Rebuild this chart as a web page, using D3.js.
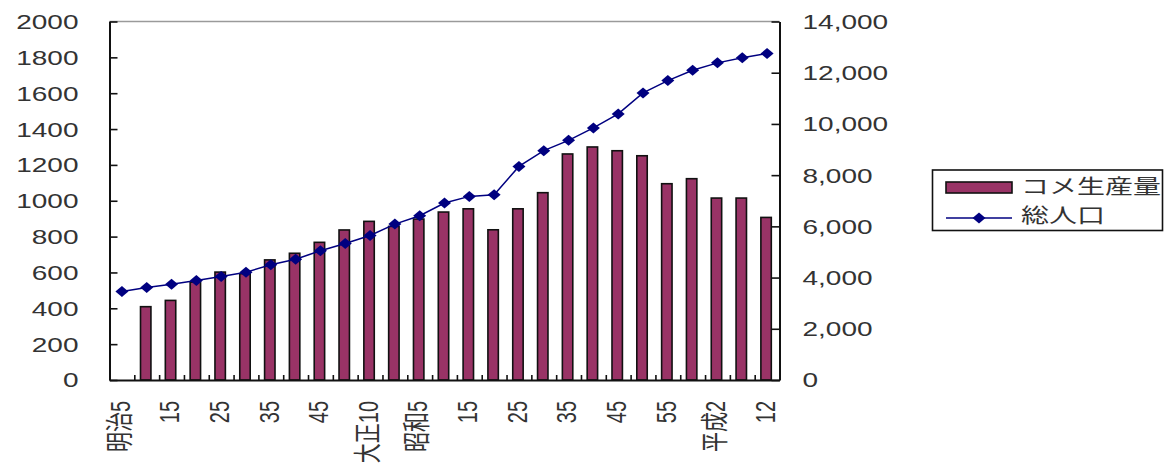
<!DOCTYPE html>
<html>
<head>
<meta charset="utf-8">
<script src="https://cdn.jsdelivr.net/npm/d3@7"></script>
<style>
  body { margin: 0; background: #fff; }
  svg { display: block; }
</style>
</head>
<body>
<svg id="chart" width="1165" height="463"></svg>
<script>
// 年次（明治5年〜平成12年、5年おき）
const categories = ["明治5", "10", "15", "20", "25", "30", "35", "40", "45",
  "大正5", "大正10", "14", "昭和5", "10", "15", "20", "25", "30", "35", "40",
  "45", "50", "55", "60", "平成2", "7", "12"];
// コメ生産量（左軸）
const riceProduction = [null, 409, 444, 546, 602, 593, 670, 707, 768, 837, 885,
  857, 898, 937, 955, 838, 955, 1045, 1261, 1300, 1279, 1251, 1095, 1123, 1015,
  1015, 907];
// 総人口（右軸）
const population = [3453, 3610, 3742, 3885, 4041, 4211, 4497, 4719, 5045, 5330,
  5644, 6088, 6414, 6910, 7170, 7235, 8342, 8956, 9359, 9844, 10391, 11212, 11693,
  12096, 12385, 12580, 12749];
const leftTicks = [0, 200, 400, 600, 800, 1000, 1200, 1400, 1600, 1800, 2000];
const rightTicks = [0, 2000, 4000, 6000, 8000, 10000, 12000, 14000];
const seriesNames = ["コメ生産量", "総人口"];

const plot = { left: 109.5, right: 779.5, top: 21.5, bottom: 380 };
const SX = 1.4;               // wide glyphs
const FONT = '"Liberation Sans", "Noto Sans CJK JP", sans-serif';
const FS = 20;
const BAR = "#993366", LINE = "#000080", TEXT = "#333";

const svg = d3.select("#chart");

const x = d3.scaleBand()
  .domain(d3.range(categories.length))
  .range([plot.left, plot.right]);
const xEdge = d3.scaleLinear()
  .domain([0, categories.length])
  .range([plot.left, plot.right]);
const yL = d3.scaleLinear().domain([0, 2000]).range([plot.bottom, plot.top]);
const yR = d3.scaleLinear().domain([0, 14000]).range([plot.bottom, plot.top]);
const cx = i => x(i) + x.bandwidth() / 2;

// plot-area top edge
svg.append("line")
  .attr("x1", plot.left).attr("x2", plot.right)
  .attr("y1", plot.top).attr("y2", plot.top)
  .attr("stroke", "#9a9a9a").attr("stroke-width", 1.5);

// rice production bars
const barW = x.bandwidth() * 0.42;
svg.append("g")
  .selectAll("rect")
  .data(riceProduction.map((v, i) => ({ v, i })).filter(d => d.v != null))
  .join("rect")
  .attr("x", d => cx(d.i) - barW / 2 - 1)
  .attr("y", d => yL(d.v))
  .attr("width", barW)
  .attr("height", d => yL(0) - yL(d.v))
  .attr("fill", BAR)
  .attr("stroke", "#111")
  .attr("stroke-width", 1.6);

// axes
function styleAxis(g) {
  g.select(".domain").attr("stroke", "#111").attr("stroke-width", 2);
  g.selectAll(".tick line").attr("stroke", "#111").attr("stroke-width", 1.6);
}

const gL = svg.append("g")
  .attr("transform", `translate(${plot.left},0)`)
  .call(d3.axisLeft(yL).tickValues(leftTicks).tickSizeInner(-8).tickSizeOuter(0)
    .tickFormat(d3.format("d")))
  .call(styleAxis);
gL.selectAll(".tick text")
  .attr("x", 0).attr("dy", null)
  .attr("transform", `translate(-31,0) scale(${SX},1)`)
  .attr("text-anchor", "end")
  .attr("dominant-baseline", "central")
  .attr("font-family", FONT).attr("font-size", FS).attr("fill", TEXT);

const gR = svg.append("g")
  .attr("transform", `translate(${plot.right},0)`)
  .call(d3.axisRight(yR).tickValues(rightTicks).tickSizeInner(-8).tickSizeOuter(0)
    .tickFormat(d3.format(",")))
  .call(styleAxis);
gR.selectAll(".tick text")
  .attr("x", 0).attr("dy", null)
  .attr("transform", `translate(23,0) scale(${SX},1)`)
  .attr("text-anchor", "start")
  .attr("dominant-baseline", "central")
  .attr("font-family", FONT).attr("font-size", FS).attr("fill", TEXT);

const gB = svg.append("g")
  .attr("transform", `translate(0,${plot.bottom})`)
  .call(d3.axisBottom(xEdge).tickValues(d3.range(1, categories.length))
    .tickSizeInner(-5).tickSizeOuter(0).tickFormat(""))
  .call(styleAxis);

// category labels, every other year, rotated
svg.append("g")
  .selectAll("text")
  .data(categories.map((c, i) => ({ c, i })).filter(d => d.i % 2 === 0))
  .join("text")
  .attr("transform", d => `translate(${cx(d.i) - 2},${plot.bottom + 21}) scale(${SX},1) rotate(-90)`)
  .attr("text-anchor", "end")
  .attr("dominant-baseline", "central")
  .attr("font-family", FONT).attr("font-size", FS).attr("fill", TEXT)
  .text(d => d.c);

// population line with diamond markers
const diamond = "M0,-5.5L6.5,0L0,5.5L-6.5,0Z";
svg.append("path")
  .datum(population)
  .attr("d", d3.line().x((d, i) => cx(i)).y(d => yR(d)))
  .attr("fill", "none")
  .attr("stroke", LINE)
  .attr("stroke-width", 1.5);
svg.append("g")
  .selectAll("path")
  .data(population)
  .join("path")
  .attr("d", diamond)
  .attr("transform", (d, i) => `translate(${cx(i)},${yR(d)})`)
  .attr("fill", LINE);

// legend
const lg = svg.append("g");
lg.append("rect")
  .attr("x", 932.5).attr("y", 170).attr("width", 230).attr("height", 60.5)
  .attr("fill", "#fff").attr("stroke", "#111").attr("stroke-width", 1.6);
lg.append("rect")
  .attr("x", 946).attr("y", 182).attr("width", 66).attr("height", 11)
  .attr("fill", BAR).attr("stroke", "#111").attr("stroke-width", 1.6);
lg.append("line")
  .attr("x1", 946).attr("x2", 1012).attr("y1", 218).attr("y2", 218)
  .attr("stroke", LINE).attr("stroke-width", 1.5);
lg.append("path")
  .attr("d", diamond)
  .attr("transform", "translate(979,218)")
  .attr("fill", LINE);
lg.selectAll("text.lbl")
  .data(seriesNames)
  .join("text")
  .attr("class", "lbl")
  .attr("transform", (d, i) => `translate(1021,${i === 0 ? 187 : 216}) scale(${SX},1)`)
  .attr("dominant-baseline", "central")
  .attr("font-family", FONT).attr("font-size", FS).attr("fill", TEXT)
  .text(d => d);
</script>
</body>
</html>
